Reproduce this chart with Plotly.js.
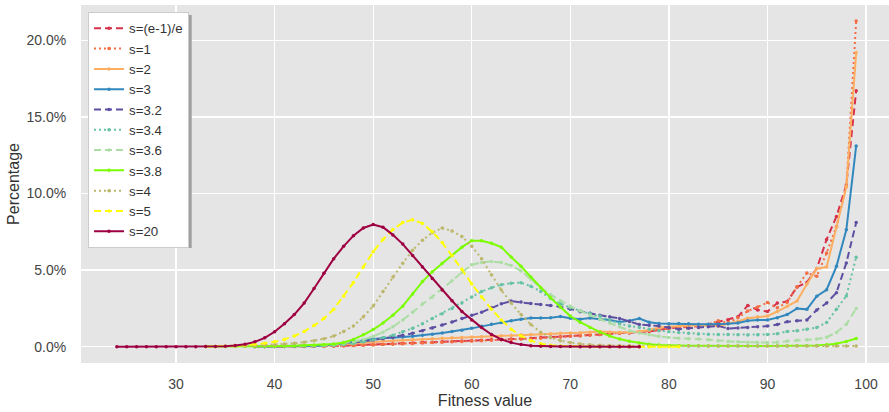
<!DOCTYPE html>
<html>
<head>
<meta charset="utf-8">
<script src="https://cdn.plot.ly/plotly-3.0.1.min.js"></script>
<style>html,body{margin:0;padding:0;background:#fff;}#chart{width:889px;height:412px;}</style>
</head>
<body>
<div id="chart"></div>
<script>
// Fitness values (x axis)
const fitness = [24,25,26,27,28,29,30,31,32,33,34,35,36,37,38,39,40,41,42,43,44,45,46,47,48,49,50,51,52,53,54,55,56,57,58,59,60,61,62,63,64,65,66,67,68,69,70,71,72,73,74,75,76,77,78,79,80,81,82,83,84,85,86,87,88,89,90,91,92,93,94,95,96,97,98,99];

const seriesNames = ["s=(e-1)/e","s=1","s=2","s=3","s=3.2","s=3.4","s=3.6","s=3.8","s=4","s=5","s=20"];
const seriesStart = [38,38,38,38,38,38,38,33,33,33,24];

// Percentages
const sE = [0.01,0.01,0.01,0.01,0.02,0.02,0.03,0.04,0.05,0.07,
  0.09,0.11,0.14,0.17,0.2,0.22,0.25,0.28,0.3,0.33,
  0.35,0.38,0.4,0.42,0.45,0.48,0.5,0.53,0.56,0.6,
  0.63,0.66,0.7,0.72,0.76,0.8,0.85,0.88,0.9,0.93,
  1.0,1.1,1.2,1.25,1.3,1.35,1.45,1.6,1.75,1.95,
  2.7,2.4,2.3,2.85,2.95,3.9,4.2,5.1,7.0,8.5,
  10.55,16.7];
const s1 = [0.01,0.01,0.01,0.01,0.02,0.02,0.03,0.04,0.05,0.06,
  0.08,0.1,0.12,0.14,0.16,0.19,0.22,0.25,0.27,0.3,
  0.32,0.35,0.37,0.4,0.42,0.45,0.47,0.5,0.53,0.56,
  0.6,0.64,0.68,0.72,0.76,0.8,0.85,0.9,0.93,0.98,
  1.05,1.12,1.2,1.25,1.3,1.38,1.45,1.7,1.55,1.9,
  2.33,2.6,2.88,2.55,2.9,3.9,4.82,4.6,6.12,7.85,
  10.44,21.25];
const s2 = [0.01,0.01,0.01,0.02,0.02,0.03,0.05,0.07,0.1,0.14,
  0.2,0.26,0.32,0.37,0.4,0.42,0.45,0.48,0.52,0.55,
  0.58,0.6,0.63,0.66,0.7,0.72,0.75,0.78,0.8,0.82,
  0.85,0.88,0.9,0.92,0.95,1.0,0.96,0.93,0.95,1.0,
  1.1,1.26,1.3,1.36,1.38,1.4,1.38,1.36,1.5,1.65,
  1.86,1.95,2.0,2.3,2.65,2.98,4.1,5.1,5.2,7.8,
  10.44,19.2];
const s3 = [0.01,0.01,0.02,0.02,0.03,0.04,0.05,0.08,0.13,0.22,
  0.32,0.43,0.5,0.55,0.58,0.63,0.69,0.75,0.82,0.9,
  0.99,1.08,1.2,1.33,1.47,1.58,1.7,1.8,1.88,1.88,
  1.9,1.97,1.86,1.8,1.88,1.8,1.75,1.62,1.7,1.84,
  1.6,1.52,1.5,1.52,1.5,1.47,1.47,1.47,1.5,1.55,
  1.7,1.75,1.75,1.9,2.1,2.5,2.44,3.3,3.72,5.25,
  7.63,13.1];
const s32 = [0.01,0.02,0.03,0.04,0.05,0.06,0.08,0.1,0.14,0.2,
  0.27,0.35,0.44,0.53,0.62,0.75,0.88,1.05,1.22,1.42,
  1.62,1.85,2.05,2.25,2.55,2.8,2.98,2.92,2.82,2.75,
  2.7,2.6,2.45,2.28,2.18,2.05,1.95,1.85,1.65,1.45,
  1.4,1.35,1.25,1.15,1.2,1.25,1.3,1.36,1.19,1.22,
  1.26,1.3,1.35,1.45,1.63,1.69,1.75,2.4,2.85,3.53,
  5.47,8.1];
const s34 = [0.01,0.02,0.02,0.03,0.04,0.05,0.06,0.08,0.1,0.15,
  0.22,0.32,0.45,0.6,0.75,0.98,1.2,1.5,1.85,2.15,
  2.5,2.85,3.25,3.6,3.85,4.05,4.15,4.18,3.95,3.6,
  3.15,2.8,2.55,2.35,2.18,2.0,1.75,1.5,1.35,1.26,
  1.15,1.05,0.98,0.93,0.88,0.83,0.82,0.8,0.8,0.78,
  0.76,0.78,0.8,0.85,1.0,1.04,1.15,1.26,1.58,2.44,
  3.31,5.84];
const s36 = [0.02,0.03,0.04,0.05,0.06,0.07,0.08,0.1,0.15,0.22,
  0.32,0.47,0.68,0.95,1.3,1.75,2.25,2.8,3.25,3.75,
  4.3,4.85,5.35,5.5,5.57,5.5,5.3,4.95,4.4,3.85,
  3.4,3.0,2.65,2.35,2.05,1.8,1.55,1.3,1.05,0.9,
  0.78,0.68,0.6,0.55,0.52,0.5,0.45,0.4,0.35,0.32,
  0.3,0.28,0.27,0.3,0.38,0.42,0.45,0.5,0.62,0.93,
  1.47,2.49];
const s38 = [0.01,0.01,0.01,0.01,0.02,0.02,0.03,0.04,0.05,0.06,
  0.08,0.1,0.13,0.18,0.28,0.48,0.78,1.12,1.55,2.05,
  2.65,3.45,4.25,4.9,5.45,5.95,6.5,6.92,6.92,6.75,
  6.5,5.85,5.25,4.55,3.85,3.2,2.6,2.0,1.6,1.26,
  0.95,0.7,0.5,0.36,0.25,0.17,0.12,0.09,0.07,0.06,
  0.06,0.05,0.05,0.05,0.05,0.05,0.05,0.05,0.05,0.05,
  0.06,0.07,0.09,0.13,0.2,0.35,0.54];
const s4 = [0.01,0.01,0.02,0.03,0.05,0.07,0.1,0.13,0.18,0.23,
  0.3,0.4,0.52,0.7,1.0,1.36,1.95,2.66,3.6,4.55,
  5.45,6.3,6.95,7.45,7.75,7.55,7.2,6.55,5.75,4.7,
  3.7,2.85,2.1,1.45,0.95,0.6,0.4,0.27,0.18,0.13,
  0.1,0.08,0.06,0.06,0.05,0.05,0.05,0.05,0.05,0.05,
  0.05,0.05,0.05,0.05,0.05,0.05,0.05,0.05,0.05,0.05,
  0.05,0.05,0.05,0.05,0.05,0.05,0.05];
const s5 = [0.01,0.02,0.04,0.07,0.11,0.16,0.23,0.32,0.48,0.7,
  1.0,1.38,1.85,2.45,3.3,4.2,5.2,6.2,7.0,7.65,
  8.1,8.28,8.05,7.5,6.8,5.95,5.05,4.1,3.25,2.45,
  1.75,1.15,0.7,0.4,0.2,0.1,0.05,0.03,0.02,0.01,
  0,0,0,0,0,0,0,0,0];
const s20 = [0,0,0,0,0,0,0,0,0,0.01,
  0.02,0.04,0.08,0.16,0.32,0.58,0.98,1.5,2.1,2.85,
  3.8,4.8,5.75,6.55,7.25,7.75,7.97,7.8,7.3,6.7,
  5.95,5.2,4.45,3.7,3.0,2.3,1.75,1.25,0.8,0.48,
  0.27,0.14,0.07,0.04,0.02,0.01,0.01,0,0,0,
  0,0,0,0];

const seriesValues = [sE,s1,s2,s3,s32,s34,s36,s38,s4,s5,s20];

// Styles
const seriesColors = ["#d7304a","#f46d43","#fdae61","#3288bd","#5e4fa2","#66c2a5","#abdda4","#7cfc00","#bdb76b","#ffff00","#9e0142"];
const seriesDash = ["7px,4px","2px,3px","solid","solid","7px,4px","2px,3px","7px,4px","solid","2px,3px","7px,4px","solid"];

const traces = seriesNames.map((name, i) => {
  const off = seriesStart[i] - fitness[0];
  return {
    type: "scatter",
    mode: "lines+markers",
    name: name,
    x: fitness.slice(off, off + seriesValues[i].length),
    y: seriesValues[i],
    line: {color: seriesColors[i], width: 2, dash: seriesDash[i]},
    marker: {color: seriesColors[i], size: 3.5},
    hoverinfo: "skip"
  };
});

const font = "Liberation Sans, Arial, sans-serif";
const layout = {
  width: 889, height: 412,
  margin: {l: 81, r: 0, t: 5, b: 49},
  paper_bgcolor: "#ffffff",
  plot_bgcolor: "#e5e5e5",
  font: {family: font, size: 14, color: "#444"},
  showlegend: true,
  xaxis: {
    range: [20.36, 102.33],
    tickmode: "array",
    tickvals: [30,40,50,60,70,80,90,100],
    ticktext: ["30","40","50","60","70","80","90","100"],
    showgrid: true, gridcolor: "#ffffff", gridwidth: 1.3,
    zeroline: false, showline: false,
    ticks: "outside", ticklen: 8, tickcolor: "rgba(0,0,0,0)",
    tickfont: {family: font, size: 14, color: "#444"},
    title: {text: "Fitness value", font: {family: font, size: 16, color: "#333"}, standoff: 4}
  },
  yaxis: {
    range: [-1.06, 22.3],
    tickmode: "array",
    tickvals: [0,5,10,15,20],
    ticktext: ["0.0%","5.0%","10.0%","15.0%","20.0%"],
    showgrid: true, gridcolor: "#ffffff", gridwidth: 1.3,
    zeroline: false, showline: false,
    ticks: "outside", ticklen: 11, tickcolor: "rgba(0,0,0,0)",
    tickfont: {family: font, size: 14, color: "#444"},
    title: {text: "Percentage", font: {family: font, size: 16, color: "#333"}, standoff: 2}
  },
  legend: {
    x: 0.0087, y: 0.98, xanchor: "left", yanchor: "top",
    bgcolor: "#ffffff", bordercolor: "#cccccc", borderwidth: 1,
    font: {family: font, size: 13.3, color: "#333"},
    tracegroupgap: 0
  },
  shapes: [{
    type: "rect", xref: "paper", yref: "paper",
    x0: 0.0124, x1: 0.137, y0: 0.321, y1: 0.972,
    fillcolor: "#a0a0a0", line: {width: 0}, layer: "above"
  }]
};

Plotly.newPlot("chart", traces, layout, {displayModeBar: false, staticPlot: true});
</script>
</body>
</html>
